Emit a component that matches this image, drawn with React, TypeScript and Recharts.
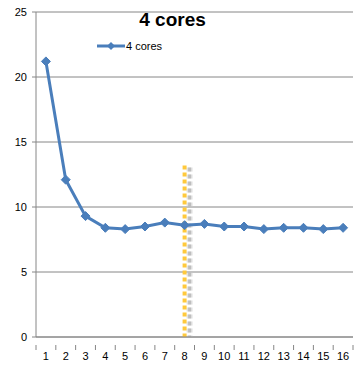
import React from 'react';
import {
    LineChart,
    Line,
    XAxis,
    YAxis,
    CartesianGrid,
    ReferenceLine
} from 'recharts';

const cores = ['1', '2', '3', '4', '5', '6', '7', '8', '9', '10', '11', '12', '13', '14', '15', '16'];
const times = [21.2, 12.1, 9.3, 8.4, 8.3, 8.5, 8.8, 8.6, 8.7, 8.5, 8.5, 8.3, 8.4, 8.4, 8.3, 8.4];
const yTicks = [0, 5, 10, 15, 20, 25];
const markerCore = '8';
const markerTop = 13.2;

const data = cores.map((c, i) => ({ core: c, value: times[i] }));

const BLUE = '#4A7EBB';
const GRID = '#868686';
const FONT = '"Liberation Sans", Arial, sans-serif';
const BAND = 317 / cores.length;

const Diamond = (props: any) => {
    const { cx, cy, index } = props;
    if (cx == null || cy == null) return null;
    const r = 4.5;
    return (
        <polygon
            key={`d-${index}`}
            points={`${cx},${cy - r} ${cx + r},${cy} ${cx},${cy + r} ${cx - r},${cy}`}
            fill={BLUE}
            stroke={BLUE}
        />
    );
};

const XTick = (props: any) => {
    const { x, y, payload, index } = props;
    const last = index === cores.length - 1;
    return (
        <g>
            <line x1={x - BAND / 2} y1={y} x2={x - BAND / 2} y2={y + 5} stroke={GRID} />
            {last && <line x1={x + BAND / 2} y1={y} x2={x + BAND / 2} y2={y + 5} stroke={GRID} />}
            <text x={x} y={y + 15} textAnchor="middle" fontSize={11} fontFamily={FONT} fill="#000">
                {payload.value}
            </text>
        </g>
    );
};

const MarkerLine = (props: any) => {
    const { x1, y1, x2, y2 } = props;
    return (
        <g>
            <line
                x1={x1 + 5} y1={y1 + 2} x2={x2 + 5} y2={y2}
                stroke="#d0d0d0" strokeWidth={6} strokeDasharray="4 3" opacity={0.6}
            />
            <line
                x1={x1 + 5} y1={y1 + 2} x2={x2 + 5} y2={y2}
                stroke="#b0b0b0" strokeWidth={3} strokeDasharray="4 3" opacity={0.7}
            />
            <line
                x1={x1} y1={y1} x2={x2} y2={y2}
                stroke="#FFC93C" strokeWidth={4} strokeDasharray="4 3"
            />
        </g>
    );
};

export default function App() {
    return (
        <div style={{ position: 'absolute', left: 0, top: 0, width: 354, height: 365, background: '#fff' }}>
            <LineChart
                width={354}
                height={365}
                data={data}
                margin={{ top: 12, right: 1, left: 0, bottom: 0 }}
            >
                <CartesianGrid vertical={false} stroke={GRID} />
                <XAxis
                    dataKey="core"
                    scale="band"
                    height={28}
                    stroke={GRID}
                    tickLine={false}
                    interval={0}
                    tick={<XTick />}
                />
                <YAxis
                    width={36}
                    domain={[0, 25]}
                    ticks={yTicks}
                    stroke={GRID}
                    tickSize={4}
                    tickMargin={5}
                    tick={{ fontSize: 11, fontFamily: FONT, fill: '#000' }}
                />
                <ReferenceLine
                    segment={[{ x: markerCore, y: markerTop }, { x: markerCore, y: 0 }]}
                    shape={<MarkerLine />}
                    ifOverflow="visible"
                />
                <Line
                    type="linear"
                    dataKey="value"
                    stroke={BLUE}
                    strokeWidth={3}
                    dot={<Diamond />}
                    activeDot={false}
                    isAnimationActive={false}
                />
            </LineChart>
            <div
                style={{
                    position: 'absolute',
                    top: 9,
                    left: 0,
                    width: 345,
                    textAlign: 'center',
                    fontFamily: FONT,
                    fontWeight: 'bold',
                    fontSize: 19,
                    color: '#000'
                }}
            >
                4 cores
            </div>
            <div
                style={{
                    position: 'absolute',
                    top: 40,
                    left: 97,
                    display: 'flex',
                    alignItems: 'center',
                    fontFamily: FONT,
                    fontSize: 11
                }}
            >
                <svg width={28} height={10}>
                    <line x1={0} y1={5} x2={28} y2={5} stroke={BLUE} strokeWidth={3} />
                    <polygon points="14,1 18,5 14,9 10,5" fill={BLUE} />
                </svg>
                <span style={{ marginLeft: 1 }}>4 cores</span>
            </div>
        </div>
    );
}
